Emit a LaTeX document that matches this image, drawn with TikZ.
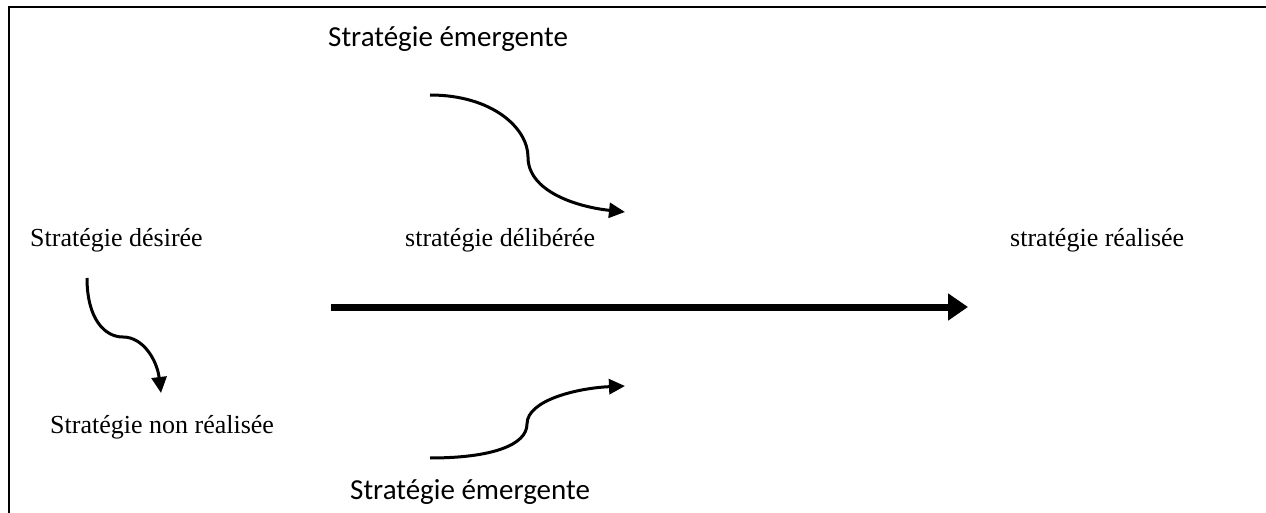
\documentclass[tikz,border=0pt]{standalone}
\usepackage{fontspec}
\setmainfont{Liberation Serif}
\newfontfamily\calibri{Carlito}
\usetikzlibrary{arrows.meta}
\begin{document}
\begin{tikzpicture}[x=1pt,y=-1pt,
  serif/.style={anchor=base west, inner sep=0pt, font=\fontsize{26}{30}\selectfont},
  calib/.style={anchor=base west, inner sep=0pt, font=\calibri\fontsize{29}{34}\selectfont},
  curvearrow/.style={line width=3pt, -{Triangle[length=16pt,width=15pt]}},
  mainarrow/.style={line width=7pt, -{Triangle[length=20pt,width=26pt]}},
  frame/.style={line width=2pt}]
\useasboundingbox (0,0) rectangle (1266,513);
% frame (top and left only)
\coordinate (fa) at (9,513);
\coordinate (fb) at (9,7);
\coordinate (fc) at (1266,7);
\draw[frame] (fa) -- (fb) -- (fc);
% texts
\node[calib] (emtop) at (328,47) {Stratégie émergente};
\node[calib] (embot) at (350,499) {Stratégie émergente};
\node[serif] (desiree) at (30,247) {Stratégie désirée};
\node[serif] (deliberee) at (405,247) {stratégie délibérée};
\node[serif] (realisee) at (1010,247) {stratégie réalisée};
\node[serif] (nonreal) at (50,433) {Stratégie non réalisée};
% connector ends
\coordinate (t0) at (430,95);
\coordinate (t1) at (528,157);
\coordinate (t2) at (625,212);
\coordinate (l0) at (87,278);
\coordinate (l1) at (123,337);
\coordinate (l2) at (161,393);
\coordinate (b0) at (430,458);
\coordinate (b1) at (527,424);
\coordinate (b2) at (625,386);
\coordinate (m0) at (331,307);
\coordinate (m1) at (968,307);
% arrows
\draw[curvearrow] (t0) .. controls (492,95) and (528,128) .. (t1) .. controls (528,192) and (578,207) .. (t2);
\draw[curvearrow] (l0) .. controls (87,318) and (104,337) .. (l1) .. controls (143,337) and (157,360) .. (l2);
\draw[curvearrow] (b0) .. controls (492,458) and (527,445) .. (b1) .. controls (527,400) and (578,388) .. (b2);
\draw[mainarrow] (m0) -- (m1);
\end{tikzpicture}
\end{document}
